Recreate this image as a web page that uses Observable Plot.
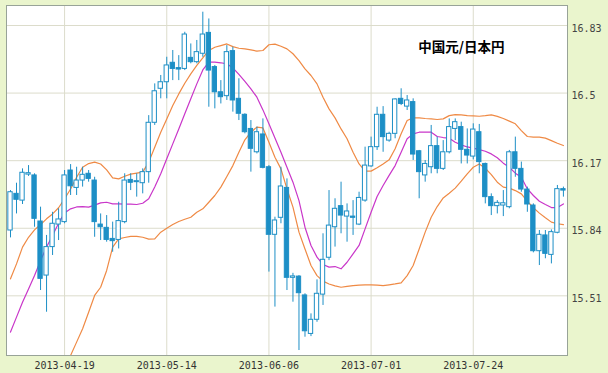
<!DOCTYPE html>
<html>
<head>
<meta charset="utf-8">
<script src="https://cdn.jsdelivr.net/npm/d3@7"></script>
<script src="https://cdn.jsdelivr.net/npm/@observablehq/plot@0.6"></script>
<style>
  html, body { margin: 0; padding: 0; background: #eaf5cd; }
  #chart { width: 608px; height: 373px; }
</style>
</head>
<body>
<div id="chart"></div>
<script>
const title = "中国元/日本円";

const open = [
  15.829, 16.008, 15.975, 16.102, 16.098, 15.873, 15.609, 15.748, 15.858, 15.870,
  16.122, 16.037, 16.073, 16.106, 16.073, 15.858, 15.842, 15.788, 15.783, 15.870,
  16.076, 16.065, 16.060, 16.114, 16.355, 16.521, 16.553, 16.648, 16.622, 16.618,
  16.672, 16.651, 16.692, 16.794, 16.627, 16.504, 16.485, 16.705, 16.472, 16.394,
  16.325, 16.211, 16.298, 16.138, 15.808, 15.891, 16.037, 15.598, 15.604, 15.512,
  15.324, 15.393, 15.516, 15.696, 15.845, 15.948, 15.897, 15.897, 15.858, 15.975,
  16.142, 16.236, 16.394, 16.268, 16.301, 16.472, 16.434, 16.456, 16.216, 16.098,
  16.138, 16.241, 16.130, 16.211, 16.325, 16.334, 16.223, 16.190, 16.309, 16.154,
  15.992, 15.948, 15.951, 15.943, 16.211, 16.130, 16.029, 15.951, 15.728, 15.805,
  15.710, 15.818, 16.031
];
const high = [
  16.024, 16.060, 16.130, 16.146, 16.106, 15.943, 15.805, 15.918, 15.935, 16.122,
  16.151, 16.138, 16.138, 16.122, 16.089, 15.910, 15.902, 15.870, 15.967, 16.106,
  16.106, 16.106, 16.130, 16.390, 16.545, 16.586, 16.675, 16.708, 16.683, 16.797,
  16.740, 16.757, 16.895, 16.862, 16.635, 16.561, 16.732, 16.724, 16.570, 16.399,
  16.366, 16.334, 16.374, 16.146, 15.894, 16.138, 16.081, 15.620, 15.609, 15.520,
  15.422, 15.588, 15.813, 16.024, 15.984, 16.065, 15.959, 15.975, 16.016, 16.236,
  16.285, 16.431, 16.434, 16.309, 16.472, 16.521, 16.488, 16.472, 16.220, 16.171,
  16.342, 16.285, 16.268, 16.374, 16.374, 16.358, 16.325, 16.350, 16.347, 16.158,
  16.008, 15.975, 16.024, 16.220, 16.285, 16.163, 16.041, 15.959, 15.829, 15.829,
  15.832, 16.049, 16.041
];
const low = [
  15.793, 15.910, 15.956, 16.093, 15.845, 15.536, 15.430, 15.707, 15.780, 15.862,
  16.000, 16.000, 16.041, 16.065, 15.796, 15.780, 15.772, 15.723, 15.739, 15.862,
  16.024, 15.992, 16.008, 16.060, 16.342, 16.472, 16.472, 16.561, 16.561, 16.610,
  16.643, 16.643, 16.675, 16.431, 16.423, 16.447, 16.464, 16.407, 16.366, 16.301,
  16.114, 16.203, 16.130, 15.626, 15.455, 15.862, 15.536, 15.479, 15.243, 15.308,
  15.311, 15.381, 15.463, 15.682, 15.748, 15.813, 15.772, 15.805, 15.853, 15.967,
  16.138, 16.220, 16.211, 16.260, 16.277, 16.439, 16.415, 16.171, 15.984, 16.065,
  16.106, 16.106, 16.122, 16.203, 16.268, 16.154, 16.154, 16.174, 16.106, 15.959,
  15.902, 15.910, 15.897, 15.935, 16.089, 16.016, 15.918, 15.720, 15.658, 15.691,
  15.666, 15.813, 15.992
];
const close = [
  16.016, 15.979, 16.111, 16.109, 15.886, 15.593, 15.748, 15.862, 15.883, 16.098,
  16.045, 16.073, 16.101, 16.081, 15.870, 15.845, 15.783, 15.777, 15.875, 16.073,
  16.062, 16.070, 16.114, 16.355, 16.509, 16.553, 16.635, 16.618, 16.615, 16.786,
  16.651, 16.700, 16.786, 16.610, 16.504, 16.480, 16.700, 16.464, 16.399, 16.309,
  16.228, 16.309, 16.135, 15.808, 15.878, 16.044, 15.598, 15.605, 15.523, 15.337,
  15.393, 15.520, 15.686, 15.853, 15.935, 15.902, 15.922, 15.891, 15.988, 16.146,
  16.236, 16.394, 16.285, 16.301, 16.469, 16.447, 16.464, 16.200, 16.114, 16.154,
  16.241, 16.130, 16.211, 16.334, 16.358, 16.223, 16.195, 16.322, 16.163, 15.992,
  15.948, 15.964, 15.962, 16.211, 16.130, 16.029, 15.956, 15.728, 15.808, 15.715,
  15.821, 16.031, 16.024
];

const upperBand = [
  15.593, 15.666, 15.748, 15.796, 15.832, 15.858, 15.886, 15.910, 15.940, 15.984,
  16.032, 16.089, 16.138, 16.156, 16.163, 16.154, 16.125, 16.086, 16.081, 16.094,
  16.104, 16.109, 16.114, 16.163, 16.236, 16.309, 16.374, 16.439, 16.496, 16.548,
  16.594, 16.635, 16.672, 16.708, 16.724, 16.732, 16.740, 16.727, 16.719, 16.716,
  16.711, 16.705, 16.708, 16.736, 16.739, 16.729, 16.716, 16.692, 16.659, 16.618,
  16.586, 16.545, 16.480, 16.423, 16.379, 16.325, 16.277, 16.211, 16.154, 16.119,
  16.119, 16.135, 16.154, 16.174, 16.228, 16.301, 16.366, 16.379, 16.379, 16.376,
  16.374, 16.371, 16.374, 16.390, 16.395, 16.394, 16.390, 16.389, 16.387, 16.390,
  16.394, 16.386, 16.376, 16.363, 16.350, 16.317, 16.288, 16.285, 16.285, 16.280,
  16.268, 16.255, 16.244
];
const middleBand = [
  15.333, 15.406, 15.479, 15.544, 15.609, 15.682, 15.748, 15.805, 15.865, 15.915,
  15.935, 15.944, 15.946, 15.943, 15.953, 15.964, 15.967, 15.959, 15.959, 15.958,
  15.958, 15.956, 15.962, 15.984, 16.041, 16.106, 16.179, 16.252, 16.325, 16.399,
  16.472, 16.545, 16.613, 16.651, 16.651, 16.648, 16.643, 16.623, 16.591, 16.557,
  16.521, 16.480, 16.418, 16.350, 16.281, 16.211, 16.138, 16.065, 15.975, 15.845,
  15.756, 15.699, 15.663, 15.650, 15.653, 15.642, 15.674, 15.715, 15.756, 15.837,
  15.918, 15.995, 16.049, 16.098, 16.146, 16.211, 16.277, 16.301, 16.309, 16.309,
  16.309, 16.288, 16.283, 16.280, 16.260, 16.247, 16.237, 16.231, 16.224, 16.216,
  16.203, 16.184, 16.158, 16.138, 16.109, 16.089, 16.032, 16.000, 15.972, 15.956,
  15.941, 15.941, 15.959
];
const lowerBand = [
  null, null, null, null, null, null, null, null, null, 15.155,
  15.219, 15.284, 15.349, 15.430, 15.512, 15.552, 15.634, 15.748, 15.788, 15.795,
  15.800, 15.800, 15.796, 15.787, 15.788, 15.821, 15.840, 15.858, 15.873, 15.884,
  15.894, 15.918, 15.935, 15.967, 16.000, 16.041, 16.093, 16.146, 16.211, 16.272,
  16.309, 16.334, 16.330, 16.260, 16.187, 16.130, 16.032, 15.943, 15.821, 15.739,
  15.658, 15.609, 15.582, 15.568, 15.559, 15.552, 15.556, 15.560, 15.562, 15.564,
  15.564, 15.562, 15.560, 15.564, 15.568, 15.573, 15.609, 15.658, 15.739, 15.821,
  15.894, 15.946, 15.988, 16.011, 16.036, 16.070, 16.106, 16.138, 16.154, 16.133,
  16.102, 16.065, 16.041, 16.036, 16.024, 16.008, 15.972, 15.940, 15.914, 15.891,
  15.870, 15.862, 15.858
];

// x tick positions (candle index) and labels
const xTickIndex = [9, 26, 43, 60, 77];
const xTickLabels = ["2013-04-19", "2013-05-14", "2013-06-06", "2013-07-01", "2013-07-24"];
const yTicks = [15.51, 15.84, 16.17, 16.5, 16.83];
const yTickLabels = ["15.51", "15.84", "16.17", "16.5", "16.83"];

const candles = open.map((o, i) => ({i, open: o, high: high[i], low: low[i], close: close[i]}));
const down = candles.filter(d => d.close < d.open);
const up = candles.filter(d => d.close >= d.open);

const C = "#1d8fc6";
const ORANGE = "#ef8a45";
const MAGENTA = "#c936c9";
const GRID = "#dcdccb";

const xLab = new Map(xTickIndex.map((d, i) => [d, xTickLabels[i]]));
const yLab = new Map(yTicks.map((d, i) => [d, yTickLabels[i]]));
const halfW = 0.36;

const chart = Plot.plot({
  width: 608,
  height: 373,
  marginTop: 5,
  marginRight: 41,
  marginBottom: 18,
  marginLeft: 6,
  style: {background: "#eaf5cd", fontFamily: "'DejaVu Sans Mono', monospace", fontSize: "10px", color: "#333"},
  x: {type: "linear", domain: [-0.666, 92.68]},
  y: {type: "linear", domain: [15.2187, 16.9277]},
  marks: [
    Plot.frame({fill: "white", stroke: null}),
    Plot.ruleY(yTicks, {stroke: GRID, strokeWidth: 1}),
    Plot.ruleX(xTickIndex, {stroke: GRID, strokeWidth: 1}),
    Plot.line(upperBand, {x: (d, i) => i, y: d => d, stroke: ORANGE, strokeWidth: 1.2, clip: true}),
    Plot.line(lowerBand, {x: (d, i) => i, y: d => d, stroke: ORANGE, strokeWidth: 1.2, clip: true}),
    Plot.line(middleBand, {x: (d, i) => i, y: d => d, stroke: MAGENTA, strokeWidth: 1.2, clip: true}),
    Plot.ruleX(candles, {x: "i", y1: "low", y2: "high", stroke: C, strokeWidth: 1}),
    Plot.rect(up, {x1: d => d.i - halfW, x2: d => d.i + halfW, y1: "open", y2: "close", fill: "white", stroke: C, strokeWidth: 1}),
    Plot.rect(down, {x1: d => d.i - halfW, x2: d => d.i + halfW, y1: "open", y2: "close", fill: C, stroke: C, strokeWidth: 1}),
    Plot.frame({stroke: "#98a398", strokeWidth: 1}),
    Plot.axisX(xTickIndex, {anchor: "bottom", tickSize: 0, tickPadding: 6, tickFormat: d => xLab.get(d), label: null, fill: "#333"}),
    Plot.axisY(yTicks, {anchor: "right", tickSize: 0, tickPadding: 4, dy: 3, tickFormat: d => yLab.get(d), label: null, fill: "#444"}),
    Plot.text([title], {frameAnchor: "top-right", dx: -63, dy: 42, text: d => d, textAnchor: "end", lineAnchor: "middle",
      fontFamily: "'Noto Sans CJK JP', sans-serif", fontWeight: "bold", fontSize: 13.5, fill: "#000"})
  ]
});
document.getElementById("chart").appendChild(chart);
</script>
</body>
</html>
